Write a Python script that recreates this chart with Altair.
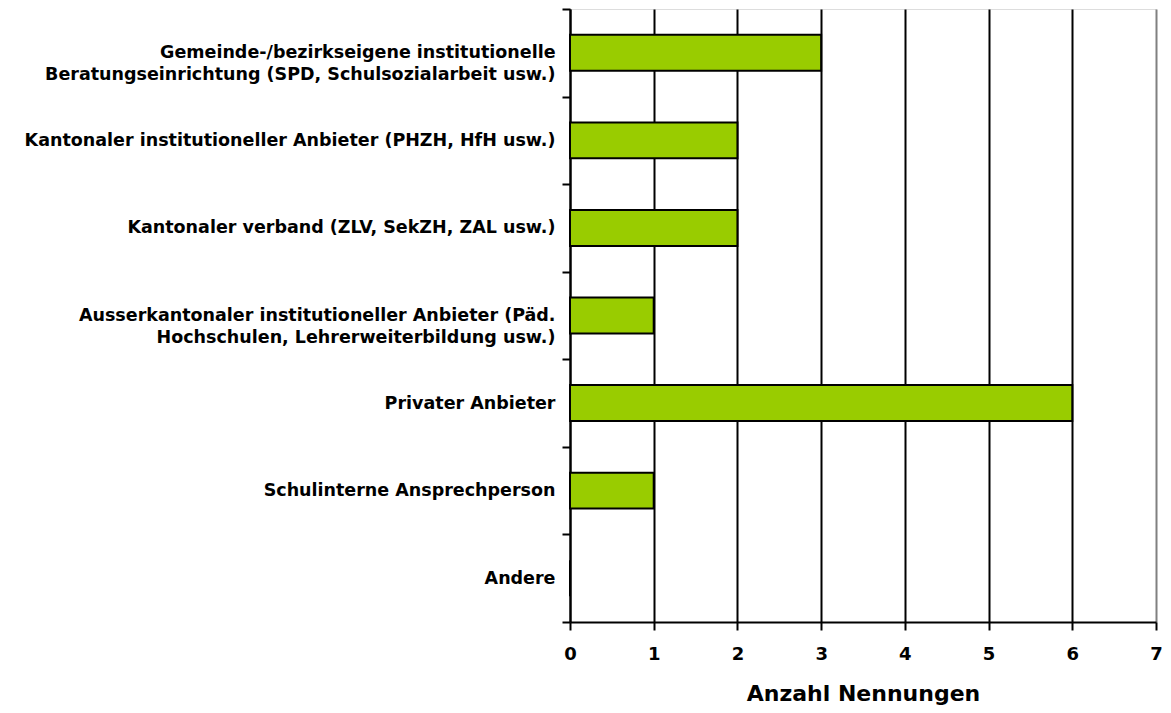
import altair as alt
import pandas as pd

categories = [
    "Gemeinde-/bezirkseigene institutionelle|Beratungseinrichtung (SPD, Schulsozialarbeit usw.)",
    "Kantonaler institutioneller Anbieter (PHZH, HfH usw.)",
    "Kantonaler verband (ZLV, SekZH, ZAL usw.)",
    "Ausserkantonaler institutioneller Anbieter (Päd.|Hochschulen, Lehrerweiterbildung usw.)",
    "Privater Anbieter",
    "Schulinterne Ansprechperson",
    "Andere",
]
values = [3, 2, 2, 1, 6, 1, 0]
x_ticks = [0, 1, 2, 3, 4, 5, 6, 7]

df = pd.DataFrame({"cat": categories, "n": values})

FONT = "DejaVu Sans"

chart = (
    alt.Chart(df)
    .mark_bar(color="#99CC00", stroke="black", strokeWidth=2, height={"band": 0.41})
    .encode(
        x=alt.X(
            "n:Q",
            scale=alt.Scale(domain=[0, 7], nice=False, zero=True),
            axis=alt.Axis(
                values=x_ticks,
                title="Anzahl Nennungen",
                titleFont=FONT,
                titleFontSize=22,
                titleFontWeight="bold",
                titleColor="black",
                titlePadding=20,
                labelFont=FONT,
                labelFontSize=18,
                labelFontWeight="bold",
                labelColor="black",
                labelPadding=15,
                labelFlush=False,
                tickSize=8,
                tickWidth=2,
                tickColor="black",
                domainColor="black",
                domainWidth=2,
                grid=True,
                gridColor=alt.condition(alt.datum.value == 7, alt.value("#808080"), alt.value("black")),
                gridWidth=2,
                format="d",
            ),
        ),
        y=alt.Y(
            "cat:N",
            sort=categories,
            scale=alt.Scale(paddingInner=0, paddingOuter=0),
            axis=alt.Axis(
                title=None,
                labelExpr="split(datum.label, '|')",
                labelFont=FONT,
                labelFontSize=17.5,
                labelFontWeight="bold",
                labelColor="black",
                labelLineHeight=22,
                labelPadding=7,
                labelLimit=0,
                tickSize=8,
                tickWidth=2,
                tickColor="black",
                tickBand="extent",
                domainColor="black",
                domainWidth=2,
                grid=False,
            ),
        ),
    )
    .properties(
        width=586,
        height=613,
        autosize=alt.AutoSizeParams(type="none"),
        padding={"left": 562, "top": 1, "right": 7, "bottom": 83},
    )
    .configure_view(stroke="#808080", strokeWidth=2)
    .configure(background="white")
)

chart.save("out.html", embed_options={"renderer": "svg", "actions": False})
